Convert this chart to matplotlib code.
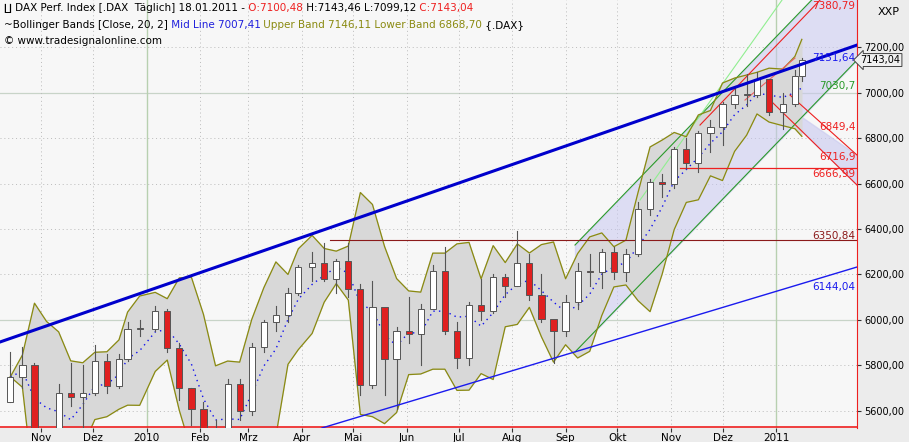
"""DAX weekly candles with Bollinger bands and trend channels (tradesignal style)."""
import numpy as np
import pandas as pd
import matplotlib
matplotlib.use("Agg")
import matplotlib.pyplot as plt
import matplotlib.dates as mdates

weeks = ["2009-10-16", "2009-10-23", "2009-10-30", "2009-11-06", "2009-11-13", "2009-11-20",
         "2009-11-27", "2009-12-04", "2009-12-11", "2009-12-18", "2009-12-23", "2009-12-30",
         "2010-01-08", "2010-01-15", "2010-01-22", "2010-01-29", "2010-02-05", "2010-02-12",
         "2010-02-19", "2010-02-26", "2010-03-05", "2010-03-12", "2010-03-19", "2010-03-26",
         "2010-04-01", "2010-04-09", "2010-04-16", "2010-04-23", "2010-04-30", "2010-05-07",
         "2010-05-14", "2010-05-21", "2010-05-28", "2010-06-04", "2010-06-11", "2010-06-18",
         "2010-06-25", "2010-07-02", "2010-07-09", "2010-07-16", "2010-07-23", "2010-07-30",
         "2010-08-06", "2010-08-13", "2010-08-20", "2010-08-27", "2010-09-03", "2010-09-10",
         "2010-09-17", "2010-09-24", "2010-10-01", "2010-10-08", "2010-10-15", "2010-10-22",
         "2010-10-29", "2010-11-05", "2010-11-12", "2010-11-19", "2010-11-26", "2010-12-03",
         "2010-12-10", "2010-12-17", "2010-12-23", "2010-12-30", "2011-01-07", "2011-01-14",
         "2011-01-18"]
close = [5750, 5800, 5415, 5490, 5680, 5660, 5680, 5820, 5710, 5830, 5960, 5960,
         6040, 5875, 5700, 5610, 5430, 5500, 5720, 5600, 5880, 5990, 6020, 6120,
         6235, 6250, 6180, 6260, 6135, 5715, 6055, 5830, 5950, 5940, 6050, 6215,
         5950, 5835, 6065, 6040, 6190, 6150, 6250, 6110, 6005, 5950, 6080, 6215,
         6210, 6300, 6210, 6290, 6490, 6605, 6600, 6750, 6690, 6820, 6850, 6950,
         6990, 6990, 7060, 6915, 6950, 7075, 7143]
high = [5860, 5880, 5810, 5520, 5720, 5810, 5800, 5890, 5850, 5850, 5990, 6000,
        6060, 6050, 5900, 5700, 5640, 5560, 5740, 5740, 5900, 6000, 6060, 6140,
        6240, 6300, 6340, 6270, 6340, 6160, 6170, 6040, 5970, 6100, 6070, 6240,
        6320, 5990, 6080, 6180, 6200, 6200, 6390, 6290, 6200, 5990, 6110, 6250,
        6290, 6310, 6320, 6310, 6520, 6620, 6640, 6760, 6800, 6830, 6880, 6960,
        7030, 7080, 7090, 7060, 7000, 7100, 7150]
low = [5640, 5700, 5400, 5320, 5480, 5620, 5520, 5670, 5680, 5700, 5820, 5930,
       5950, 5860, 5650, 5540, 5400, 5350, 5470, 5560, 5580, 5860, 5950, 5990,
       6110, 6170, 6170, 6120, 6100, 5670, 5700, 5670, 5610, 5900, 5800, 6050,
       5940, 5790, 5800, 6000, 6030, 6100, 6150, 6090, 5990, 5810, 5930, 6050,
       6150, 6140, 6180, 6170, 6280, 6460, 6540, 6580, 6670, 6650, 6740, 6770,
       6930, 6940, 6980, 6900, 6840, 6940, 7050]
month_ticks = ["2009-11-01", "2009-12-01", "2010-01-01", "2010-02-01", "2010-03-01", "2010-04-01",
               "2010-05-01", "2010-06-01", "2010-07-01", "2010-08-01", "2010-09-01", "2010-10-01",
               "2010-11-01", "2010-12-01", "2011-01-01"]
month_labels = ["Nov", "Dez", "2010", "Feb", "Mrz", "Apr", "Mai", "Jun", "Jul", "Aug",
                "Sep", "Okt", "Nov", "Dez", "2011"]
price_ticks = [5600, 5800, 6000, 6200, 6400, 6600, 6800, 7000, 7200]

d = mdates.date2num(pd.to_datetime(weeks)) - 2
opens = [close[0] - 110] + close[:-1]
s = pd.Series(close)
mid = s.rolling(4, min_periods=1).mean()
sd = s.rolling(4, min_periods=2).std().fillna(0)
up_b, lo_b = mid + 2 * sd, mid - 2 * sd

x0 = mdates.date2num(pd.Timestamp("2009-10-08"))
x1 = x0 + 497
Y0, Y1 = 5525, 7407
px = lambda p: x0 + p / 857 * 497        # pixel x -> date number (used for drawn lines only)
py = lambda p: 7200 - (p - 47) * 4.396   # pixel y -> price

fig = plt.figure(figsize=(9.09, 4.42), dpi=100, facecolor="#ececec")
ax = fig.add_axes([0, 14 / 442, 857 / 909, 428 / 442], facecolor="#f7f7f7")
ax.set_xlim(x0, x1)
ax.set_ylim(Y0, Y1)

for p in price_ticks:
    if p in (6000, 7000):
        ax.axhline(p, color="#c8d4c8", lw=0.9, zorder=0)
    else:
        ax.axhline(p, color="#bbbbbb", lw=0.7, ls=(0, (1, 3)), zorder=0)
for t in mdates.date2num(pd.to_datetime(month_ticks)):
    ax.axvline(t, color="#bbbbbb", lw=0.7, ls=(0, (1, 3)), zorder=0)
for t in ["2010-01-01", "2011-01-01"]:
    ax.axvline(mdates.date2num(pd.Timestamp(t)), color="#b8d0b0", lw=1.0, zorder=0)

# regression channel
cx = np.array([px(575), px(857)])
ax.fill_between(cx, [py(352 - 107), py(60 - 107)], [py(352), py(60)],
                color="#c8c8f0", alpha=0.55, zorder=1)
ax.plot(cx, [py(352), py(60)], color="#2a9a2a", lw=0.8, zorder=2)
ax.plot(cx, [py(245), py(-47)], color="#2a9a2a", lw=0.8, zorder=2)
ax.plot([px(640), px(782)], [py(200), py(0)], color="#90ee90", lw=0.8, zorder=2)

# Bollinger
ax.fill_between(d, lo_b, up_b, color="#d8d8d8", zorder=1.5)
ax.plot(d, up_b, color="#8a8a10", lw=0.9, zorder=2)
ax.plot(d, lo_b, color="#8a8a10", lw=0.9, zorder=2)
ax.plot(d, mid, color="#1010ee", lw=1.0, ls=(0, (1, 3)), zorder=2)

# red fan
ax.fill_between([px(770), px(857)], [py(100), py(185)], [py(95), py(155)],
                color="#c8c8f0", alpha=0.6, zorder=1)
ax.plot([px(700), px(820)], [py(125), py(0)], color="#ee2020", lw=0.8, zorder=2)
ax.plot([px(745), px(795)], [py(100), py(58)], color="#ee6060", lw=0.8, zorder=2)
ax.plot([px(790), px(857)], [py(95), py(155)], color="#ee2020", lw=0.8, zorder=2)
ax.plot([px(770), px(857)], [py(100), py(185)], color="#ee2020", lw=0.8, zorder=2)

# horizontal levels
ax.plot([px(330), x1], [6350.84] * 2, color="#8b1a1a", lw=0.8, zorder=2)
ax.plot([px(680), x1], [6666.99] * 2, color="#ee2020", lw=0.9, zorder=2)
ax.axhline(Y0 + 3, color="#ee2020", lw=1.2, zorder=2)

# candles
for xi, o, h, l, c in zip(d, opens, high, low, close):
    ax.plot([xi, xi], [l, h], color="#555555", lw=0.8, zorder=3)
    fc = "white" if c >= o else "#e02020"
    ax.bar(xi, max(abs(c - o), 4), bottom=min(o, c), width=3.6, color=fc,
           edgecolor="#555555", lw=0.7, zorder=4)

# trend lines
ax.plot([x0, x1], [py(342), py(45)], color="#0000cc", lw=2.2, zorder=5)
ax.plot([px(322), x1], [py(428), py(267)], color="#1a1aee", lw=1.0, zorder=5)

for txt, y, col in [("7380,79", 7380.79, "#ee2020"), ("7151,64", 7151.64, "#1a1aee"),
                    ("7030,7", 7030.7, "#2a9a2a"), ("6849,4", 6849.4, "#ee2020"),
                    ("6716,9", 6716.9, "#ee2020"), ("6666,99", 6640, "#ee2020"),
                    ("6350,84", 6370, "#8b1a1a"), ("6144,04", 6144.04, "#1a1aee")]:
    ax.text(x1 - 1, y, txt, color=col, fontsize=7.5, ha="right", va="center", zorder=6)

ax.set_xticks(mdates.date2num(pd.to_datetime(month_ticks)))
ax.set_xticklabels(month_labels, fontsize=7.5, va="top")
ax.tick_params(axis="x", direction="out", length=3, pad=0.5, color="#333333")
ax.yaxis.tick_right()
ax.set_yticks(price_ticks)
ax.set_yticklabels([f"{p},00" for p in price_ticks], fontsize=7)
ax.tick_params(axis="y", direction="out", length=3, pad=2, color="#333333")
for sp in ["top", "left", "bottom"]:
    ax.spines[sp].set_visible(False)
ax.spines["right"].set_color("#ee2020")

ax.text(x1 + 2, 7143.04, "7143,04", fontsize=7, va="center", ha="left",
        bbox=dict(boxstyle="larrow,pad=0.15", fc="#f0f0f0", ec="#444444", lw=0.7),
        clip_on=False, zorder=7)
fig.text(0.965, 0.985, "XXP", fontsize=8, va="top", ha="left")


def header_line(y, parts):
    # place coloured pieces one after another on the same line
    prev = None
    for txt, col in parts:
        if prev is None:
            prev = fig.text(0.004, y, txt, fontsize=7.5, va="top", color=col)
        else:
            prev = fig.text(0, 0, txt, fontsize=7.5, va="bottom", color=col,
                            transform=matplotlib.transforms.offset_copy(
                                prev.get_transform(), fig=fig, x=0, y=0))
            prev.set_position((0, 0))
    return prev


def chain(y, parts):
    t = None
    for txt, col in parts:
        if t is None:
            t = fig.text(0.004, y, txt, fontsize=7.5, va="top", color=col)
        else:
            t = ax.annotate(" " + txt if not txt.startswith("{") else " " + txt,
                            xy=(1, 0), xycoords=t, xytext=(0, 0), textcoords="offset points",
                            fontsize=7.5, va="bottom", color=col, annotation_clip=False)


chain(0.993, [("\u2210 DAX Perf. Index [.DAX  Täglich] 18.01.2011 -", "black"),
              ("O:7100,48", "#ee2020"), ("H:7143,46 L:7099,12", "black"),
              ("C:7143,04", "#ee2020")])
chain(0.955, [("~Bollinger Bands [Close, 20, 2]", "black"), ("Mid Line 7007,41", "#2020dd"),
              ("Upper Band 7146,11 Lower Band 6868,70", "#8a8a10"), ("{.DAX}", "black")])
fig.text(0.004, 0.918, "\u00a9 www.tradesignalonline.com", fontsize=7.5, va="top")

fig.savefig("out.png", dpi=100, facecolor=fig.get_facecolor())
